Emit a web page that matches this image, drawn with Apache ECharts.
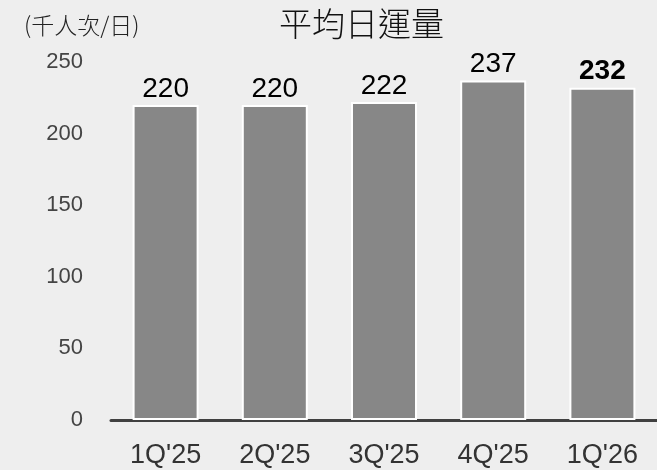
<!DOCTYPE html>
<html lang="zh-Hant">
<head>
    <meta charset="UTF-8">
    <title>平均日運量</title>
    <script type="text/javascript" src="https://cdn.jsdelivr.net/npm/echarts@6/dist/echarts.min.js"></script>
    <style>
        html, body { margin: 0; padding: 0; background: #eeeeee; }
    </style>
</head>
<body>
<div id="main" style="width: 657px;height:470px;"></div>

<script type="text/javascript">
    // 季度 / 平均日運量 (千人次/日)
    var quarters = ["1Q'25", "2Q'25", "3Q'25", "4Q'25", "1Q'26"];
    var ridership = [220, 220, 222, 237, 232];
    var yTicks = [0, 50, 100, 150, 200, 250];

    var latinFont = '"Liberation Sans", Arial, sans-serif';
    var cjkFont = '"Noto Sans CJK TC", "Noto Sans CJK SC", sans-serif';

    var chartDom = document.getElementById('main');
    var myChart = echarts.init(chartDom);

    var option = {
        backgroundColor: '#eeeeee',
        animation: false,
        title: [
            {
                text: '平均日運量',
                left: 274,
                top: 2,
                textStyle: {fontFamily: cjkFont, fontSize: 33, fontWeight: 300, color: '#111'}
            },
            {
                text: '(千人次/日)',
                left: 19,
                top: 9,
                textStyle: {fontFamily: cjkFont, fontSize: 23, fontWeight: 300, color: '#222'}
            }
        ],
        grid: {left: 111, right: -4, top: 62, bottom: 50},
        xAxis: {
            type: 'category',
            data: quarters,
            axisLine: {lineStyle: {color: '#404040', width: 3}},
            axisTick: {show: false},
            axisLabel: {fontFamily: latinFont, fontSize: 27, color: '#333', margin: 22}
        },
        yAxis: {
            type: 'value',
            min: yTicks[0],
            max: yTicks[yTicks.length - 1],
            interval: 50,
            splitLine: {show: false},
            axisLine: {show: false},
            axisTick: {show: false},
            axisLabel: {fontFamily: latinFont, fontSize: 22, color: '#444', margin: 28}
        },
        series: [
            {
                type: 'bar',
                data: ridership.map(function (v, i) {
                    var last = i === ridership.length - 1;
                    return {
                        value: v,
                        label: {fontWeight: last ? 'bold' : 'normal'}
                    };
                }),
                barWidth: 66,
                itemStyle: {color: '#878787', borderColor: '#ffffff', borderWidth: 2},
                label: {
                    show: true,
                    position: 'top',
                    distance: 2,
                    fontFamily: latinFont,
                    fontSize: 28,
                    color: '#000'
                }
            }
        ]
    };

    option && myChart.setOption(option);
</script>
</body>
</html>
